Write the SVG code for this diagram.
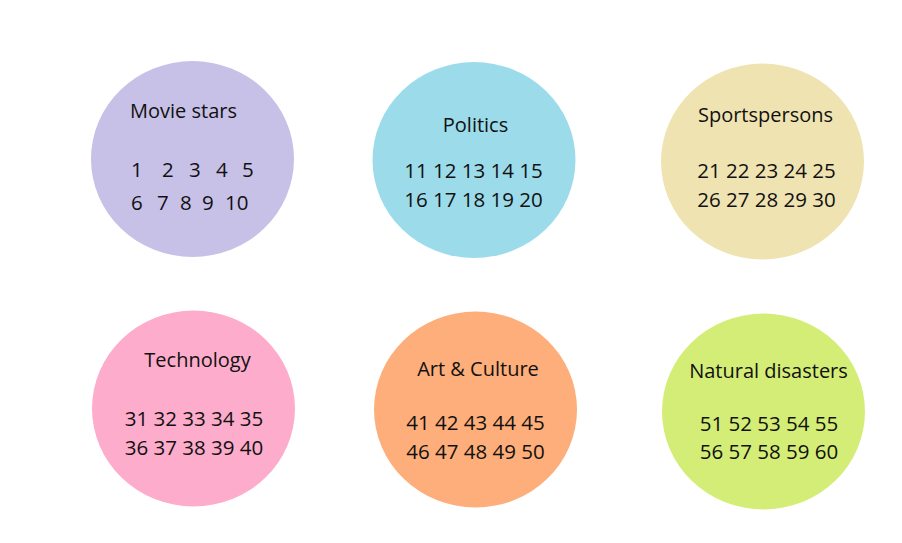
<svg xmlns="http://www.w3.org/2000/svg" width="902" height="543" viewBox="0 0 902 543">
<style>
.t{font-family:"Open Sans","Noto Sans",sans-serif;font-size:20px;fill:#111;text-anchor:middle}
.n{font-family:"Open Sans","Noto Sans",sans-serif;font-size:20.5px;fill:#111;text-anchor:middle}
.s{text-anchor:start}
</style>
<rect width="902" height="543" fill="#fff"/>
<g id="movie-stars">
<ellipse cx="192.5" cy="159" rx="101.5" ry="98" fill="#c7c0e7"/>
<text class="t s" x="130" y="118">Movie stars</text>
<text class="n s" y="177"><tspan x="131">1</tspan><tspan x="162">2</tspan><tspan x="189">3</tspan><tspan x="216">4</tspan><tspan x="242">5</tspan></text>
<text class="n s" y="210"><tspan x="131">6</tspan><tspan x="157">7</tspan><tspan x="180">8</tspan><tspan x="202">9</tspan><tspan x="225">10</tspan></text>
</g>
<g id="politics">
<ellipse cx="474" cy="160" rx="101.5" ry="98" fill="#9cdbea"/>
<text class="t" x="475.5" y="132">Politics</text>
<text class="n" x="473.5" y="178">11 12 13 14 15</text>
<text class="n" x="473.5" y="207">16 17 18 19 20</text>
</g>
<g id="sportspersons">
<ellipse cx="762.5" cy="161.5" rx="101.5" ry="98" fill="#efe3b1"/>
<text class="t" x="765.5" y="122">Sportspersons</text>
<text class="n" x="766.5" y="178">21 22 23 24 25</text>
<text class="n" x="766.5" y="207">26 27 28 29 30</text>
</g>
<g id="technology">
<ellipse cx="193.5" cy="408.5" rx="101.5" ry="98" fill="#fdaccb"/>
<text class="t" x="197.5" y="367">Technology</text>
<text class="n" x="194" y="426">31 32 33 34 35</text>
<text class="n" x="194" y="455">36 37 38 39 40</text>
</g>
<g id="art-culture">
<ellipse cx="475.5" cy="409.5" rx="101.5" ry="98" fill="#fdae7a"/>
<text class="t" x="478" y="376">Art &amp; Culture</text>
<text class="n" x="475.5" y="430">41 42 43 44 45</text>
<text class="n" x="475.5" y="459">46 47 48 49 50</text>
</g>
<g id="natural-disasters">
<ellipse cx="763.5" cy="411.5" rx="101.5" ry="98" fill="#d4ed76"/>
<text class="t" x="768.5" y="378">Natural disasters</text>
<text class="n" x="769" y="431">51 52 53 54 55</text>
<text class="n" x="769" y="459">56 57 58 59 60</text>
</g>
<g id="connectors"/>
</svg>
